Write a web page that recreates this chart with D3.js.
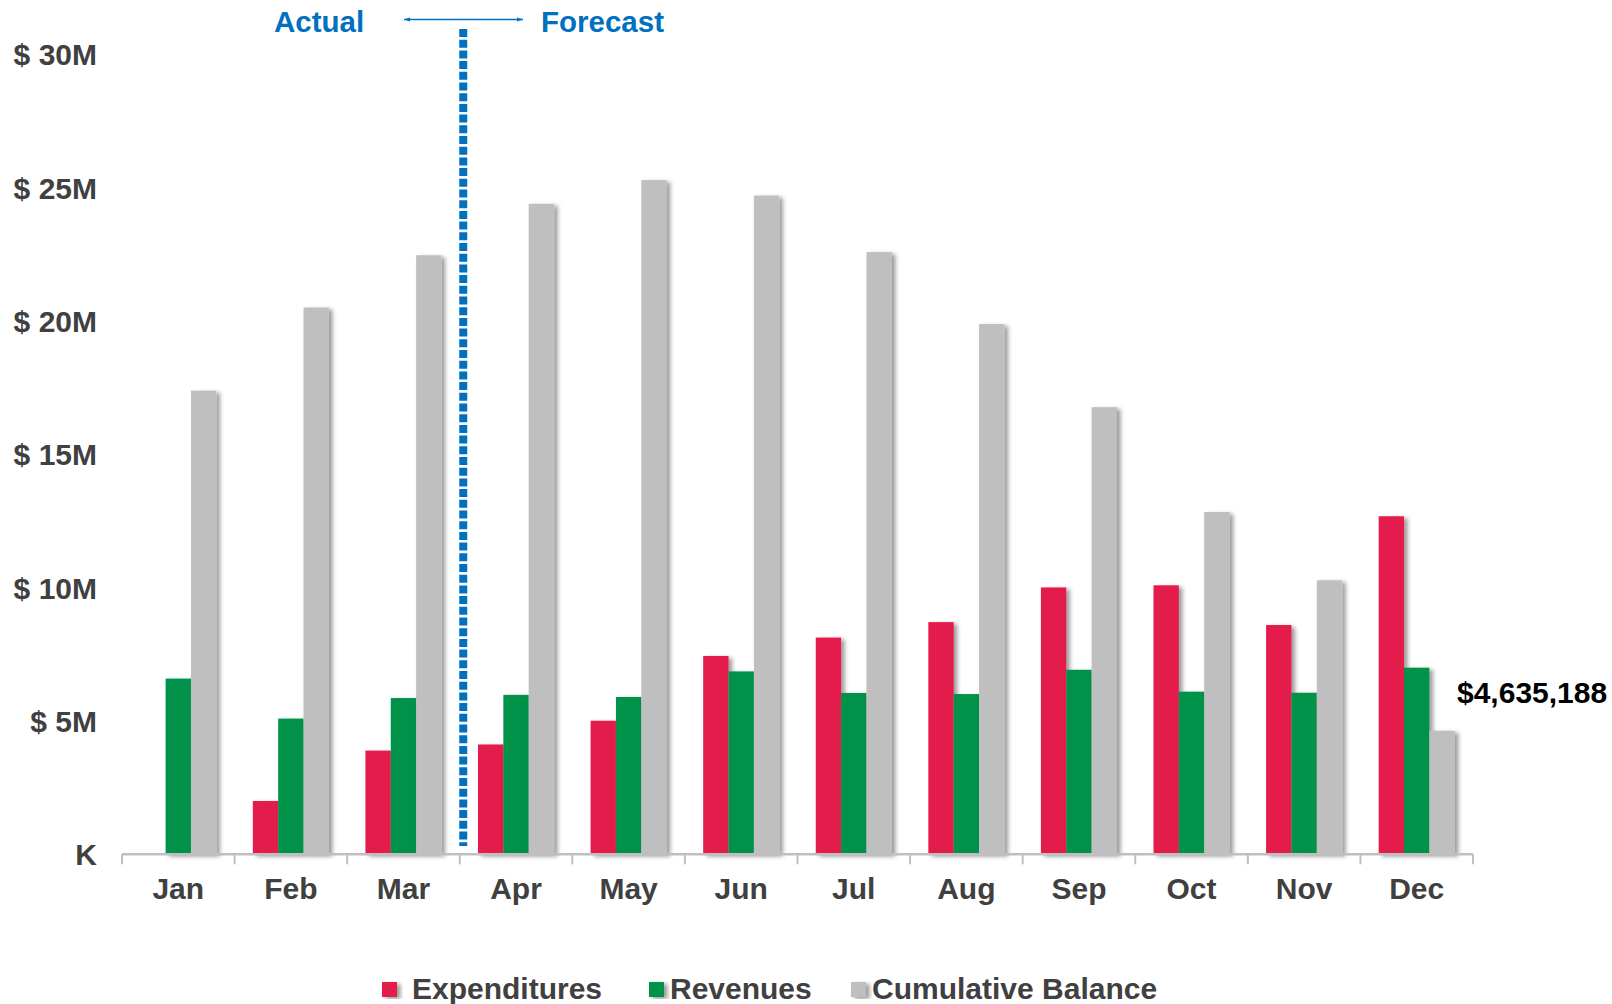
<!DOCTYPE html>
<html><head><meta charset="utf-8">
<script src="https://cdn.jsdelivr.net/npm/d3@7/dist/d3.min.js"></script>
<style>
html,body{margin:0;padding:0;background:#fff;}
svg{display:block;font-family:"Liberation Sans",Arial,sans-serif;font-weight:bold;}
</style></head>
<body>
<svg id="c" width="1612" height="1004"></svg>
<script>
const months = ["Jan","Feb","Mar","Apr","May","Jun","Jul","Aug","Sep","Oct","Nov","Dec"];
const seriesNames = ["Expenditures","Revenues","Cumulative Balance"];
const expenditures = [0, 2.0e6, 3.89e6, 4.12e6, 5.01e6, 7.44e6, 8.13e6, 8.71e6, 10.01e6, 10.09e6, 8.6e6, 12.68e6];
const revenues = [6.59e6, 5.09e6, 5.86e6, 5.98e6, 5.9e6, 6.86e6, 6.05e6, 6.01e6, 6.92e6, 6.1e6, 6.06e6, 7.0e6];
const cumulative = [17.39e6, 20.51e6, 22.47e6, 24.4e6, 25.29e6, 24.71e6, 22.59e6, 19.89e6, 16.77e6, 12.84e6, 10.28e6, 4635188];
const tickValues = [0, 5e6, 10e6, 15e6, 20e6, 25e6, 30e6];
const tickLabels = ["K", "$ 5M", "$ 10M", "$ 15M", "$ 20M", "$ 25M", "$ 30M"];
const colors = ["#E41E4B", "#00924A", "#BFBFBF"];
const endLabel = "$4,635,188";
const splitAfter = "Mar";
const headLeft = "Actual", headRight = "Forecast";

const svg = d3.select("#c");
const x = d3.scaleBand().domain(months).range([122, 1473]).padding(0);
const xi = d3.scaleBand().domain(seriesNames).range([0, x.bandwidth()]).paddingInner(0).paddingOuter(0.72);
const y = d3.scaleLinear().domain([0, 30e6]).range([854.3, 54.5]);

const defs = svg.append("defs");
const f = defs.append("filter").attr("id","sh").attr("x","-20%").attr("y","-5%").attr("width","160%").attr("height","115%");
f.append("feDropShadow").attr("dx",3.5).attr("dy",2).attr("stdDeviation",2).attr("flood-color","#000").attr("flood-opacity",0.4);
const gf = defs.append("filter").attr("id","gsh").attr("x","-5%").attr("y","-200%").attr("width","110%").attr("height","500%");
gf.append("feDropShadow").attr("dx",1).attr("dy",1.2).attr("stdDeviation",0.8).attr("flood-color","#000").attr("flood-opacity",0.3);

// gridlines
svg.append("g").selectAll("line").data(tickValues.slice(1)).join("line")
  .attr("x1", 122).attr("x2", 1473)
  .attr("y1", d => y(d)).attr("y2", d => y(d))
  .attr("stroke", "#D6D6D6").attr("stroke-width", 3).attr("filter","url(#gsh)");

// y labels
svg.append("g").selectAll("text").data(tickValues).join("text")
  .attr("x", 97).attr("y", d => y(d)).attr("dy", "0.36em")
  .attr("text-anchor", "end").attr("font-size", 30).attr("fill", "#404040")
  .text((d, i) => tickLabels[i]);

// bars
const data = months.map((m, i) => ({m, vals: [expenditures[i], revenues[i], cumulative[i]]}));
const g = svg.append("g");
data.forEach(d => {
  d.vals.forEach((v, k) => {
    if (v <= 0) return;
    g.append("rect")
      .attr("x", x(d.m) + xi(seriesNames[k]))
      .attr("width", xi.bandwidth())
      .attr("y", y(v)).attr("height", y(0) - y(v))
      .attr("fill", colors[k]).attr("filter", "url(#sh)");
  });
});

// x axis
const xAxis = svg.append("g");
xAxis.append("line").attr("x1", 122).attr("x2", 1473).attr("y1", y(0)).attr("y2", y(0))
  .attr("stroke", "#BFBFBF").attr("stroke-width", 2.5);
const bounds = months.map(m => x(m)).concat([x.range()[1]]);
xAxis.selectAll("line.t").data(bounds).join("line").attr("class","t")
  .attr("x1", d => d).attr("x2", d => d).attr("y1", y(0)).attr("y2", y(0) + 10)
  .attr("stroke", "#BFBFBF").attr("stroke-width", 2);
xAxis.selectAll("text").data(months).join("text")
  .attr("x", d => x(d) + x.bandwidth() / 2).attr("y", 899)
  .attr("text-anchor", "middle").attr("font-size", 30).attr("fill", "#404040")
  .text(d => d);

// end label
svg.append("text").attr("x", 1457).attr("y", 703)
  .attr("font-size", 30).attr("fill", "#000").text(endLabel);

// divider
const divX = x(splitAfter) + x.bandwidth() + 3.5;
svg.append("line").attr("x1", divX).attr("x2", divX).attr("y1", 29).attr("y2", 846)
  .attr("stroke", "#0070C0").attr("stroke-width", 8).attr("stroke-dasharray", "8,2.7");

// header
const blue = "#0070C0";
svg.append("text").attr("x", 274).attr("y", 32).attr("font-size", 29.5).attr("fill", blue).text(headLeft);
svg.append("text").attr("x", 541).attr("y", 32).attr("font-size", 29.5).attr("fill", blue).text(headRight);
const am = defs.append("marker").attr("id","ah").attr("viewBox","0 0 10 10").attr("refX",10).attr("refY",5)
  .attr("markerWidth",6).attr("markerHeight",6).attr("orient","auto-start-reverse").attr("markerUnits","userSpaceOnUse");
am.append("path").attr("d","M0,1.5 L10,5 L0,8.5 Z").attr("fill", blue);
svg.append("line").attr("x1", 404).attr("x2", 523).attr("y1", 19.5).attr("y2", 19.5)
  .attr("stroke", blue).attr("stroke-width", 1.5)
  .attr("marker-start","url(#ah)").attr("marker-end","url(#ah)");

// legend
const legX = [382, 649, 851];
const lg = svg.append("g");
seriesNames.forEach((s, i) => {
  lg.append("rect").attr("x", legX[i]).attr("y", 982).attr("width", 15).attr("height", 15)
    .attr("fill", colors[i]).attr("filter","url(#sh)");
  lg.append("text").attr("x", legX[i] + (i === 0 ? 30 : 21)).attr("y", 999)
    .attr("font-size", 30).attr("fill", "#404040").text(s);
});
</script>
</body></html>
